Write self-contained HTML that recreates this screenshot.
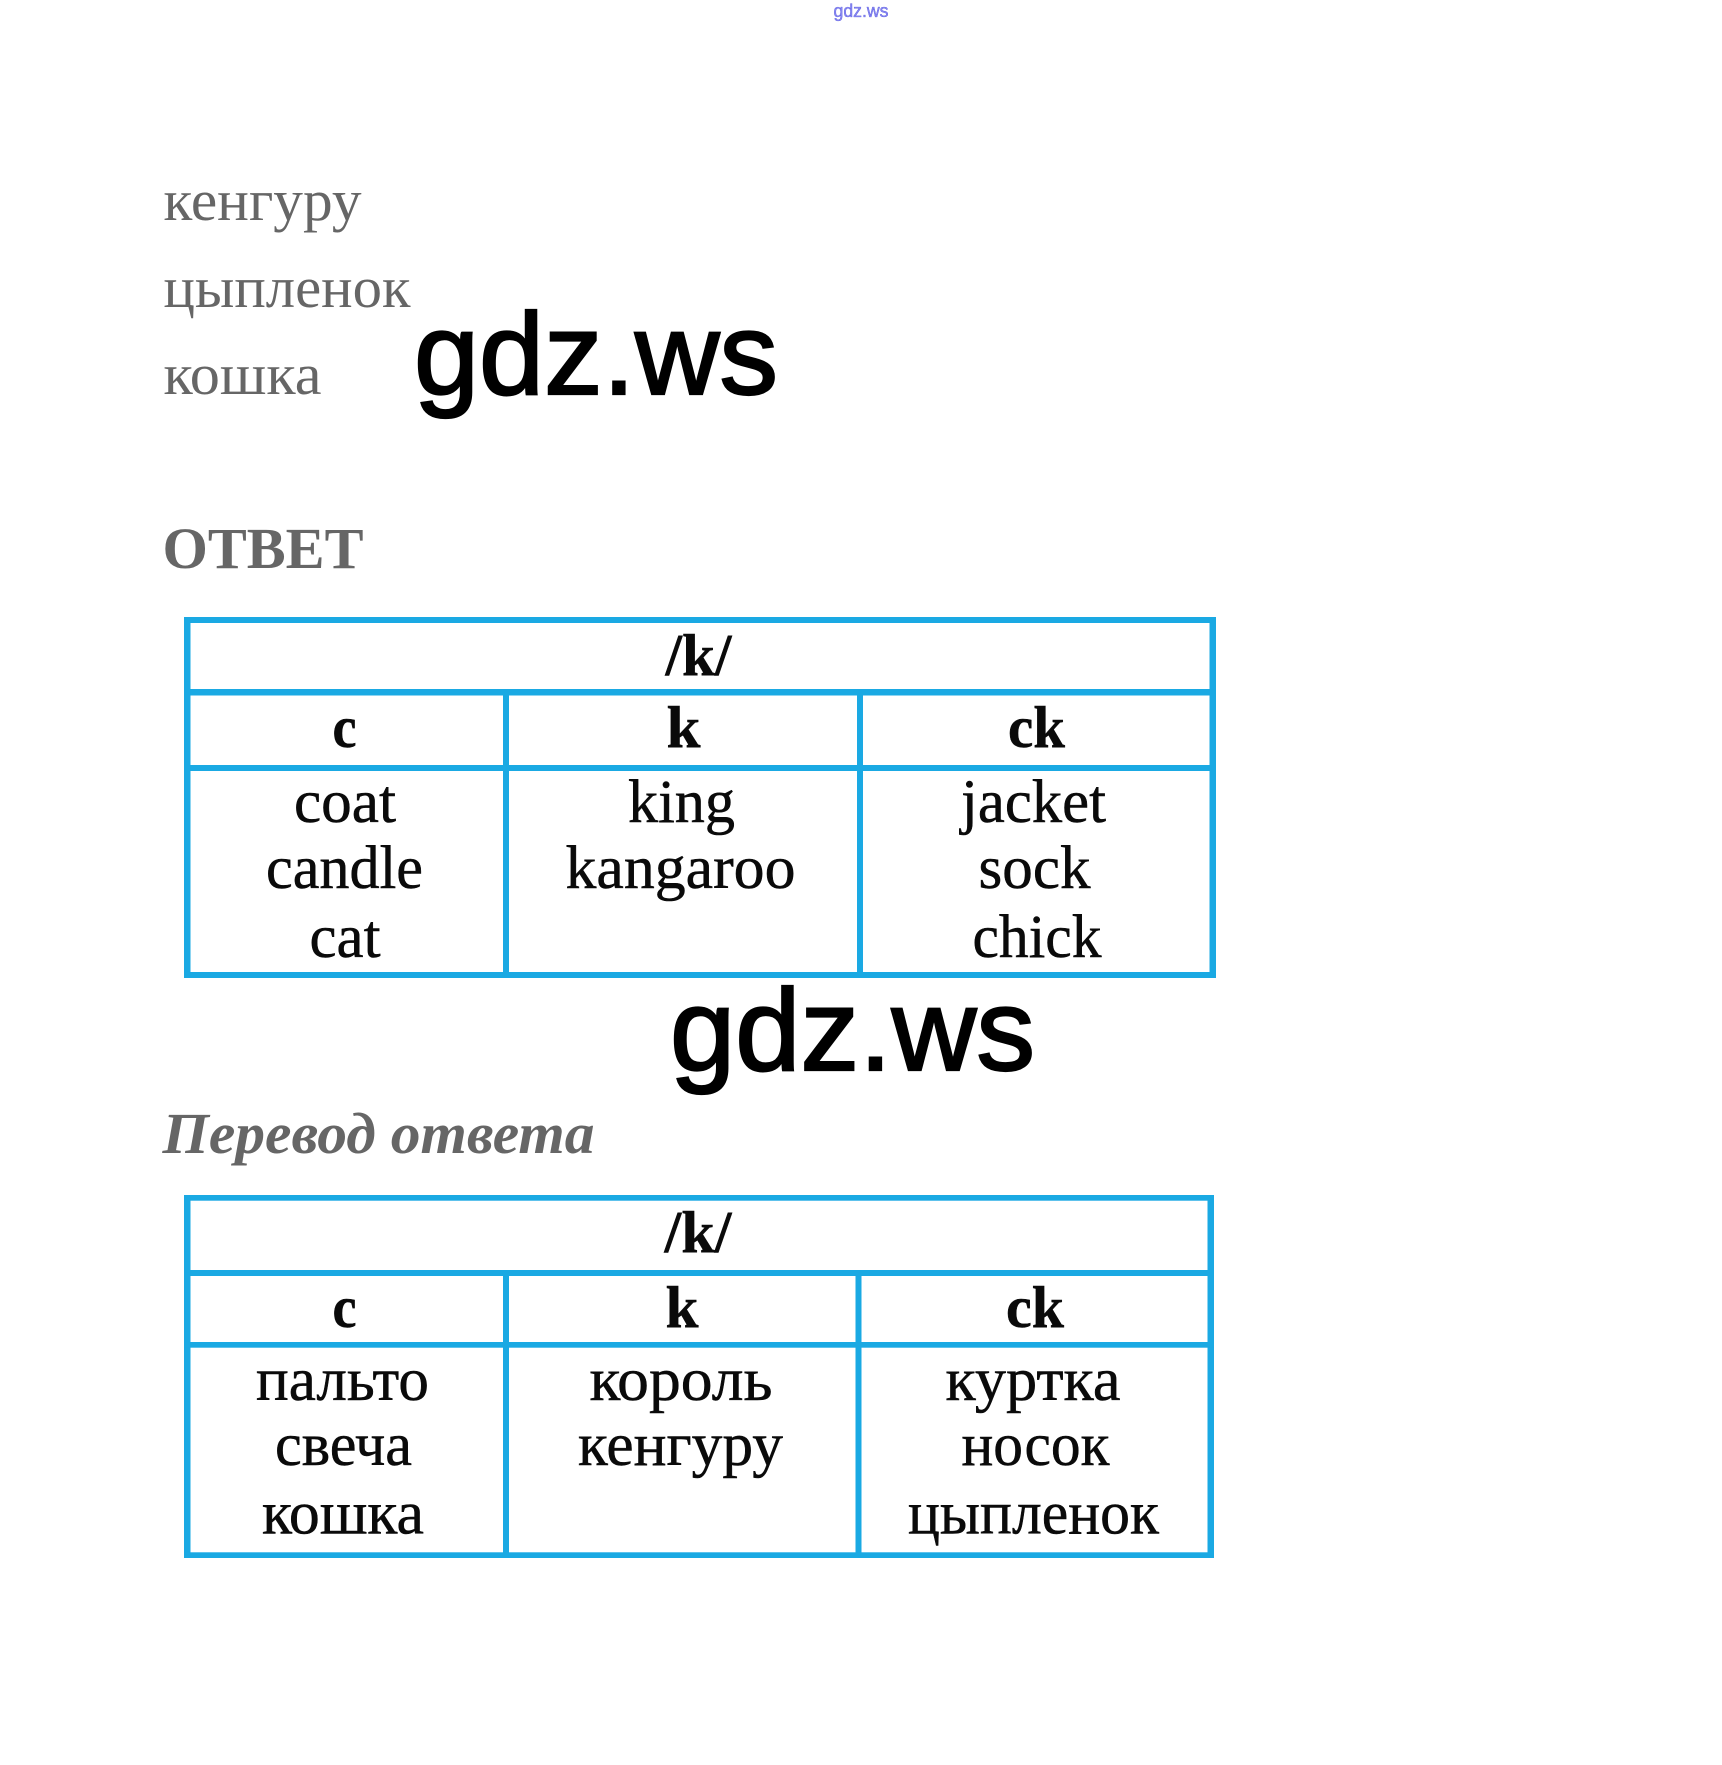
<!DOCTYPE html>
<html lang="ru">
<head>
<meta charset="utf-8">
<title>gdz.ws</title>
<style>
html,body{margin:0;padding:0;background:#fff;width:1722px;height:1765px;overflow:hidden}
svg{display:block}
.g{font-family:"Liberation Serif","Noto Serif CJK SC",serif;fill:#666;font-size:58px}
.t{font-family:"Liberation Serif","Noto Serif CJK SC",serif;fill:#0a0a0a;font-size:61px;stroke:#0a0a0a;stroke-width:.5px}
.b{font-family:"Liberation Serif","Noto Serif CJK SC",serif;fill:#0a0a0a;font-size:59px;font-weight:bold;stroke:#0a0a0a;stroke-width:.5px}
.w{font-family:"Liberation Sans",sans-serif;fill:#000;font-size:116px;stroke:#000;stroke-width:2.2px}
</style>
</head>
<body>
<svg width="1722" height="1765" viewBox="0 0 1722 1765" xmlns="http://www.w3.org/2000/svg">
<rect width="1722" height="1765" fill="#fff"/>

<text x="833.5" y="17" font-family="Liberation Sans, sans-serif" font-size="18" fill="#8a8af0" stroke="#4a4ae0" stroke-width=".35" textLength="55" lengthAdjust="spacingAndGlyphs">gdz.ws</text>

<text class="g" x="163.5" y="220" textLength="198" lengthAdjust="spacingAndGlyphs">кенгуру</text>
<text class="g" x="163.5" y="307" textLength="247" lengthAdjust="spacingAndGlyphs">цыпленок</text>
<text class="g" x="163.5" y="394" textLength="158" lengthAdjust="spacingAndGlyphs">кошка</text>
<text class="g" x="162.5" y="568" font-weight="bold" font-size="60" textLength="201" lengthAdjust="spacingAndGlyphs">ОТВЕТ</text>
<text class="g" x="162.5" y="1153" font-weight="bold" font-style="italic" font-size="60" textLength="432" lengthAdjust="spacingAndGlyphs">Перевод ответа</text>

<text class="w" x="414" y="394" textLength="364" lengthAdjust="spacingAndGlyphs">gdz.ws</text>
<text class="w" x="670" y="1070" textLength="365" lengthAdjust="spacingAndGlyphs">gdz.ws</text>

<g fill="#1aa9e3">
<!-- table 1 -->
<rect x="184" y="617" width="1032" height="6"/>
<rect x="184" y="972" width="1032" height="6"/>
<rect x="184" y="617" width="6.5" height="361"/>
<rect x="1209.5" y="617" width="6.5" height="361"/>
<rect x="184" y="689" width="1032" height="6.5"/>
<rect x="184" y="765" width="1032" height="6"/>
<rect x="503" y="689" width="6" height="289"/>
<rect x="857" y="689" width="6" height="289"/>
<!-- table 2 -->
<rect x="184" y="1195" width="1030" height="5.7"/>
<rect x="184" y="1552.3" width="1030" height="5.7"/>
<rect x="184" y="1195" width="6.5" height="363"/>
<rect x="1207.5" y="1195" width="6.5" height="363"/>
<rect x="184" y="1270" width="1030" height="6"/>
<rect x="184" y="1342" width="1030" height="5.7"/>
<rect x="503" y="1270" width="6" height="288"/>
<rect x="855.5" y="1270" width="6" height="288"/>
</g>

<!-- table 1 text -->
<text class="b" x="665.5" y="675" textLength="66" lengthAdjust="spacingAndGlyphs">/k/</text>
<text class="b" x="332.5" y="747" textLength="24" lengthAdjust="spacingAndGlyphs">c</text>
<text class="b" x="666.5" y="747" textLength="34" lengthAdjust="spacingAndGlyphs">k</text>
<text class="b" x="1008" y="747" textLength="57" lengthAdjust="spacingAndGlyphs">ck</text>
<text class="t" x="294" y="822" textLength="102" lengthAdjust="spacingAndGlyphs">coat</text>
<text class="t" x="266" y="888" textLength="157" lengthAdjust="spacingAndGlyphs">candle</text>
<text class="t" x="309.5" y="957" textLength="71" lengthAdjust="spacingAndGlyphs">cat</text>
<text class="t" x="628" y="822" textLength="107" lengthAdjust="spacingAndGlyphs">king</text>
<text class="t" x="565.5" y="888" textLength="230" lengthAdjust="spacingAndGlyphs">kangaroo</text>
<text class="t" x="961" y="822" textLength="145" lengthAdjust="spacingAndGlyphs">jacket</text>
<text class="t" x="978.5" y="888" textLength="112" lengthAdjust="spacingAndGlyphs">sock</text>
<text class="t" x="972.5" y="957" textLength="129" lengthAdjust="spacingAndGlyphs">chick</text>

<!-- table 2 text -->
<text class="b" x="664.5" y="1252" textLength="67" lengthAdjust="spacingAndGlyphs">/k/</text>
<text class="b" x="332.5" y="1327" textLength="24" lengthAdjust="spacingAndGlyphs">c</text>
<text class="b" x="665.5" y="1327" textLength="33" lengthAdjust="spacingAndGlyphs">k</text>
<text class="b" x="1006" y="1327" textLength="58" lengthAdjust="spacingAndGlyphs">ck</text>
<text class="t" x="256" y="1400" textLength="173" lengthAdjust="spacingAndGlyphs">пальто</text>
<text class="t" x="275" y="1465" textLength="137" lengthAdjust="spacingAndGlyphs">свеча</text>
<text class="t" x="262" y="1533.5" textLength="162" lengthAdjust="spacingAndGlyphs">кошка</text>
<text class="t" x="589.5" y="1400" textLength="183" lengthAdjust="spacingAndGlyphs">король</text>
<text class="t" x="578" y="1465" textLength="205" lengthAdjust="spacingAndGlyphs">кенгуру</text>
<text class="t" x="945.5" y="1400" textLength="175" lengthAdjust="spacingAndGlyphs">куртка</text>
<text class="t" x="961.5" y="1465" textLength="148" lengthAdjust="spacingAndGlyphs">носок</text>
<text class="t" x="908" y="1533.5" textLength="251" lengthAdjust="spacingAndGlyphs">цыпленок</text>
</svg>
</body>
</html>
